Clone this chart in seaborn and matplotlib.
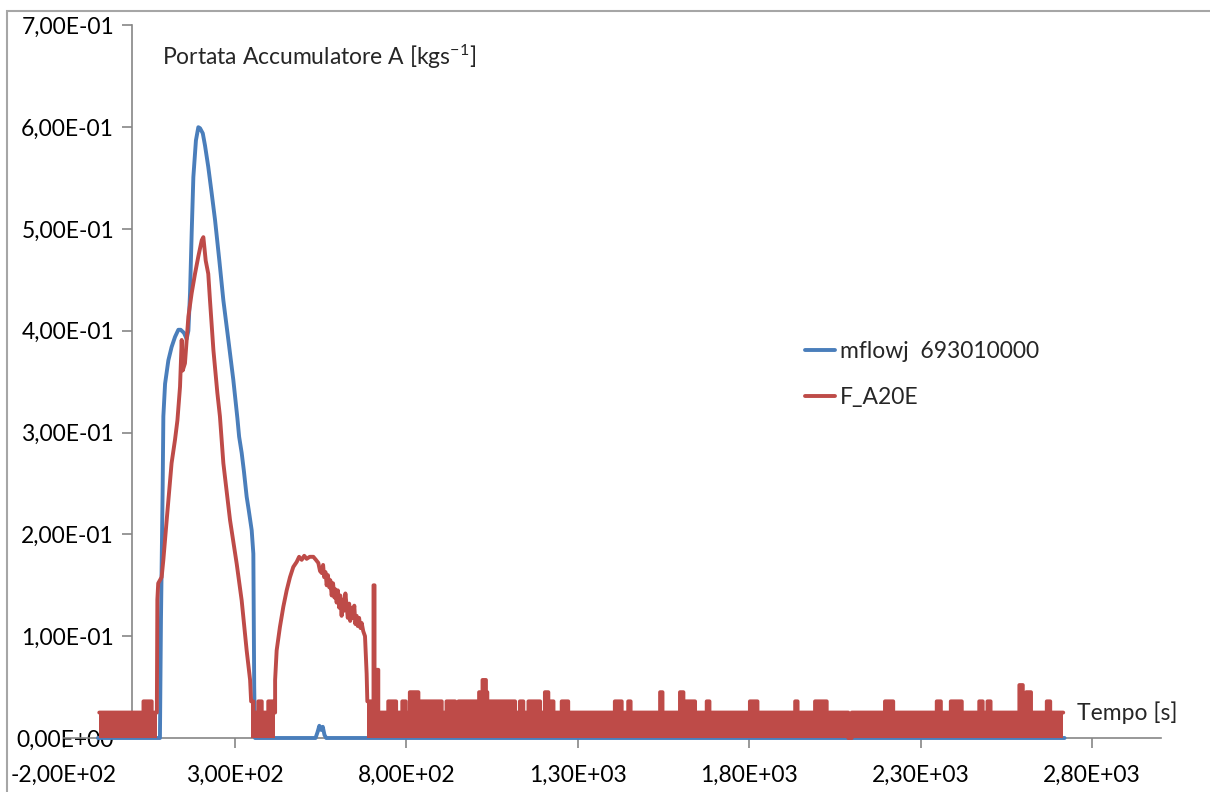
import numpy as np
import pandas as pd
import seaborn as sns
import matplotlib.pyplot as plt
from matplotlib.patches import Rectangle
from matplotlib.ticker import FixedLocator, FuncFormatter

# Dati letti dal grafico
# mflowj 693010000 (blu)
blue_t = [-100, 81, 84, 89, 91, 96, 105.6, 115, 125, 134.7, 141.5, 151, 159, 164, 168.8,
          173.6, 178.5, 186, 193, 198, 206, 212.5, 222, 232, 241.7, 254.3, 266, 280.6,
          295, 307, 312, 319.5, 326, 334, 340, 348.7, 353.5, 356, 358.4,
          535, 541, 546, 551, 556, 561, 566, 2720]
blue_v = [0, 0, 0.116, 0.247, 0.316, 0.348, 0.371, 0.384, 0.394, 0.401, 0.401, 0.398, 0.392, 0.400, 0.437,
          0.496, 0.551, 0.587, 0.600, 0.599, 0.594, 0.582, 0.561, 0.535, 0.509, 0.469, 0.430, 0.391,
          0.352, 0.314, 0.296, 0.280, 0.262, 0.237, 0.224, 0.204, 0.181, 0.050, 0,
          0, 0.006, 0.012, 0.008, 0.011, 0.003, 0, 0]

# F_A20E (rosso): picchi principali
hump1_t = [72, 73.5, 76, 86, 91, 100.7, 115, 125, 132, 139.6, 144.5, 147.4, 154, 164, 173.6,
           183.3, 193, 203, 207.7, 214.5, 222, 227, 237, 248.5, 256, 266, 285.5, 305, 319.5,
           334, 344, 347]
hump1_v = [0.025, 0.136, 0.152, 0.158, 0.175, 0.214, 0.270, 0.293, 0.312, 0.345, 0.391, 0.361, 0.368,
           0.414, 0.437, 0.456, 0.473, 0.489, 0.492, 0.469, 0.456, 0.430, 0.381, 0.339, 0.316,
           0.270, 0.214, 0.171, 0.135, 0.086, 0.057, 0.036]
hump2_t = [417, 421.5, 431, 441, 450.7, 460.4, 470, 480, 487, 494.5, 502, 509, 518, 528.5, 536, 543,
           548, 553, 557, 560, 564, 567.4, 571, 575, 578, 582, 586, 590, 593, 596.5, 600, 604,
           607, 611, 614, 618, 622, 626, 629, 633, 636, 640.3, 644, 648, 651, 655, 658, 662,
           666, 669.5, 674, 679.2, 684, 686]
hump2_v = [0.057, 0.086, 0.109, 0.129, 0.145, 0.158, 0.168, 0.173, 0.178, 0.175, 0.179, 0.176, 0.178,
           0.178, 0.175, 0.172, 0.164, 0.162, 0.170, 0.158, 0.163, 0.150, 0.160, 0.148, 0.155, 0.140,
           0.152, 0.138, 0.146, 0.133, 0.145, 0.128, 0.140, 0.120, 0.136, 0.125, 0.142, 0.128, 0.118,
           0.132, 0.115, 0.128, 0.118, 0.130, 0.112, 0.120, 0.110, 0.118, 0.108, 0.113, 0.105, 0.100,
           0.063, 0.036]

# F_A20E (rosso): rumore di fondo, livelli a gradini (inizio intervallo, livello)
noise_a_t = [-96, 33, 57, 72]
noise_a_v = [0.025, 0.036, 0.025]
noise_b_t = [347, 353.5, 368, 378, 397, 412, 417]
noise_b_v = [0.036, 0.025, 0.036, 0.025, 0.036, 0.025]
noise_c_t = [686, 704, 707, 718, 747, 770, 788, 798, 810, 835, 903, 917, 942, 952, 1012, 1022,
             1032, 1036, 1117, 1131, 1141, 1156, 1190, 1204, 1214, 1229, 1253, 1272, 1408, 1428,
             1447, 1454, 1540, 1547, 1598, 1608, 1642, 1676, 1684, 1802, 1824, 1934, 1941, 1992,
             2026, 2089, 2099, 2196, 2220, 2347, 2359, 2388, 2420, 2471, 2481, 2495, 2504, 2588,
             2598, 2608, 2622, 2668, 2678, 2716]
noise_c_v = [0.036, 0.150, 0.067, 0.025, 0.036, 0.025, 0.036, 0.025, 0.045, 0.036, 0.025, 0.036,
             0.025, 0.036, 0.045, 0.057, 0.045, 0.036, 0.025, 0.036, 0.025, 0.036, 0.025, 0.045,
             0.036, 0.025, 0.036, 0.025, 0.036, 0.025, 0.036, 0.025, 0.045, 0.025, 0.045, 0.036,
             0.025, 0.036, 0.025, 0.036, 0.025, 0.036, 0.025, 0.036, 0.025, 0.0, 0.025, 0.036,
             0.025, 0.036, 0.025, 0.036, 0.025, 0.036, 0.025, 0.036, 0.025, 0.052, 0.036, 0.045,
             0.025, 0.036, 0.025]

x_ticks = [-200, 300, 800, 1300, 1800, 2300, 2800]
y_ticks = [0, 0.1, 0.2, 0.3, 0.4, 0.5, 0.6, 0.7]

BLUE = '#4A7EBB'
RED = '#BE4B48'


def steps(edges, levels):
    # punti di una linea a gradini: (inizio, livello) -> (fine, livello)
    xs, ys = [], []
    for i, lv in enumerate(levels):
        xs += [edges[i], edges[i + 1]]
        ys += [lv, lv]
    return xs, ys


na_x, na_y = steps(noise_a_t, noise_a_v)
nb_x, nb_y = steps(noise_b_t, noise_b_v)
nc_x, nc_y = steps(noise_c_t, noise_c_v)

red = pd.DataFrame({
    't': na_x + hump1_t + nb_x + hump2_t + nc_x,
    'v': na_y + hump1_v + nb_y + hump2_v + nc_y,
})
blue = pd.DataFrame({'t': blue_t, 'v': blue_v})

sns.set_style('white')
plt.rcParams['font.family'] = ['Lato', 'DejaVu Sans']
plt.rcParams['mathtext.default'] = 'regular'
FS = 16.5

fig = plt.figure(figsize=(12.1, 7.92), dpi=100)
ax = fig.add_axes([63.6 / 1210, 1 - 738 / 792, (1160.6 - 63.6) / 1210, (738 - 25.4) / 792])

sns.lineplot(data=blue, x='t', y='v', sort=False, estimator=None, ax=ax, color=BLUE,
             linewidth=2.8, label='mflowj  693010000', zorder=3, clip_on=False)
sns.lineplot(data=red, x='t', y='v', sort=False, estimator=None, ax=ax, color=RED,
             linewidth=2.8, label='F_A20E', zorder=4, clip_on=False)
for xs, ys in [(na_x, na_y), (nb_x, nb_y), (nc_x, nc_y)]:
    ax.fill_between(xs, 0, ys, color=RED, linewidth=0, zorder=4)

ax.set_xlim(-200, 3000)
ax.set_ylim(0, 0.7)
ax.set_xlabel('')
ax.set_ylabel('')

# assi in stile Excel: asse y che incrocia in x = 0
ax.spines['left'].set_position(('data', 0))
for side in ['top', 'right']:
    ax.spines[side].set_visible(False)
for side in ['left', 'bottom']:
    ax.spines[side].set_color('#868686')
    ax.spines[side].set_linewidth(1.2)

fmt = FuncFormatter(lambda v, pos: f'{v:.2E}'.replace('.', ','))
ax.xaxis.set_major_locator(FixedLocator(x_ticks))
ax.yaxis.set_major_locator(FixedLocator(y_ticks))
ax.xaxis.set_major_formatter(fmt)
ax.yaxis.set_major_formatter(fmt)
ax.tick_params(axis='both', direction='out', length=7, width=1.2, color='#868686',
               labelsize=FS, labelcolor='black')
ax.tick_params(axis='x', pad=12, bottom=True)
ax.tick_params(axis='y', pad=6, left=True)

fig.text(162 / 1210, 1 - 57 / 792, 'Portata Accumulatore A [kgs$^{-1}$]', fontsize=FS,
         va='center', ha='left')
fig.text(1077 / 1210, 1 - 713 / 792, 'Tempo [s]', fontsize=FS, va='center', ha='left')

ax.legend(loc='upper left', bbox_to_anchor=(805 / 1210, 1 - 341 / 792),
          bbox_transform=fig.transFigure, frameon=False, fontsize=FS,
          handlelength=1.31, handletextpad=0.22, labelspacing=1.1,
          borderaxespad=0, borderpad=0)

# cornice dell'area del grafico
fig.patches.append(Rectangle((7 / 1210, -0.1), 1.2, 1 - 11 / 792 + 0.1, transform=fig.transFigure,
                             fill=False, edgecolor='#A6A6A6', linewidth=1.5))

fig.savefig('out.png', dpi=100)
